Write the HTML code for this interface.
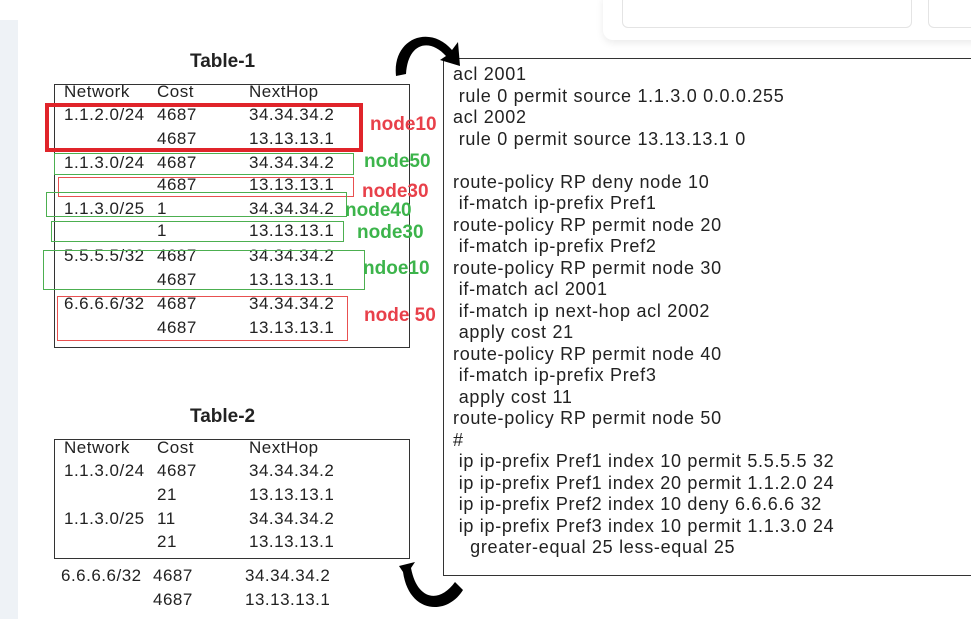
<!DOCTYPE html>
<html><head><meta charset="utf-8">
<style>
body{margin:0;width:971px;height:619px;background:#fff;position:relative;overflow:hidden;font-family:"Liberation Sans","DejaVu Sans",sans-serif;color:#222}
.a{position:absolute;white-space:pre;font-size:17px;letter-spacing:0.5px;line-height:20px}
.box{position:absolute;box-sizing:border-box}
.code{position:absolute;left:453px;font-size:18px;letter-spacing:0.7px;white-space:pre;line-height:20px}
.t{position:absolute;font-weight:bold;font-size:19px}
.lab{position:absolute;font-weight:bold;font-size:19px;white-space:pre}
</style></head><body>
<div class="box" style="left:0;top:20px;width:18px;height:599px;background:#eef2f6"></div>
<div class="box" style="left:603px;top:-10px;width:380px;height:50px;border-radius:10px;box-shadow:0 3px 8px rgba(0,0,0,0.08);background:#fff"></div>
<div class="box" style="left:622px;top:-5px;width:290px;height:33px;border:1px solid #e4e4e4;border-radius:6px"></div>
<div class="box" style="left:928px;top:-5px;width:60px;height:33px;border:1px solid #e4e4e4;border-radius:6px"></div>

<div class="t" style="left:190px;top:51px">Table-1</div>
<div class="box" style="left:54px;top:84px;width:356px;height:264px;border:1.5px solid #333"></div>
<div class="a" style="left:64px;top:82px">Network</div>
<div class="a" style="left:157px;top:82px">Cost</div>
<div class="a" style="left:249px;top:82px">NextHop</div>

<div id="t1"></div>

<div class="box" style="left:45px;top:103px;width:318px;height:49px;border:4px solid #e0242a"></div>
<div class="box" style="left:54px;top:153px;width:300px;height:22px;border:1px solid #4caf50"></div>
<div class="box" style="left:58px;top:177px;width:296px;height:20px;border:1px solid #e85050"></div>
<div class="box" style="left:46px;top:192px;width:301px;height:25px;border:1px solid #4caf50"></div>
<div class="box" style="left:51px;top:221px;width:293px;height:21px;border:1px solid #4caf50"></div>
<div class="box" style="left:43px;top:250px;width:322px;height:40px;border:1px solid #4caf50"></div>
<div class="box" style="left:57px;top:296px;width:291px;height:45px;border:1px solid #e85050"></div>

<div class="lab" style="left:370px;top:114px;color:#e8404a">node10</div>
<div class="lab" style="left:364px;top:151px;color:#3cb44b">node50</div>
<div class="lab" style="left:362px;top:181px;color:#e8404a">node30</div>
<div class="lab" style="left:345px;top:200px;color:#3cb44b">node40</div>
<div class="lab" style="left:357px;top:222px;color:#3cb44b">node30</div>
<div class="lab" style="left:363px;top:258px;color:#3cb44b">ndoe10</div>
<div class="lab" style="left:364px;top:305px;color:#e8404a">node 50</div>

<div class="t" style="left:190px;top:406px">Table-2</div>
<div class="box" style="left:54px;top:439px;width:356px;height:120px;border:1.5px solid #333"></div>
<div id="t2"></div>

<div class="box" style="left:443px;top:58px;width:540px;height:518px;border:1.5px solid #333"></div>
<div id="code"></div>

<svg style="position:absolute;left:390px;top:28px" width="80" height="50">
<path d="M6 48 C2 10,40 -4,62 22 L68 14 L70 38 L50 32 L56 28 C40 10,18 14,16 46 Z" fill="#000"/></svg>
<svg style="position:absolute;left:395px;top:560px" width="70" height="55">
<path d="M4 6 L20 2 L16 8 C22 40,44 44,60 22 L68 30 C52 56,14 54,8 12 Z" fill="#000"/></svg>

<script>
const t1=[["1.1.2.0/24","4687","34.34.34.2"],["","4687","13.13.13.1"],["1.1.3.0/24","4687","34.34.34.2"],["","4687","13.13.13.1"],["1.1.3.0/25","1","34.34.34.2"],["","1","13.13.13.1"],["5.5.5.5/32","4687","34.34.34.2"],["","4687","13.13.13.1"],["6.6.6.6/32","4687","34.34.34.2"],["","4687","13.13.13.1"]];
const t1y=[105,129,153,175,199,221,246,270,294,318];
const t2=[["Network","Cost","NextHop",438,64,157,249],["1.1.3.0/24","4687","34.34.34.2",461,64,157,249],["","21","13.13.13.1",485,64,157,249],["1.1.3.0/25","11","34.34.34.2",509,64,157,249],["","21","13.13.13.1",532,64,157,249],["6.6.6.6/32","4687","34.34.34.2",566,61,153,245],["","4687","13.13.13.1",590,61,153,245]];
function cell(parent,txt,x,y,name){const d=document.createElement('div');d.className='a';d.textContent=txt;d.style.left=x+'px';d.style.top=y+'px';


parent.appendChild(d);}
const p1=document.getElementById('t1');
t1.forEach((r,i)=>{cell(p1,r[0],64,t1y[i],'t1-network');cell(p1,r[1],157,t1y[i],'t1-cost');cell(p1,r[2],249,t1y[i],'t1-nexthop');});
const p2=document.getElementById('t2');
t2.forEach(r=>{cell(p2,r[0],r[4],r[3],'t2-network');cell(p2,r[1],r[5],r[3],'t2-cost');cell(p2,r[2],r[6],r[3],'t2-nexthop');});
const lines=["acl 2001"," rule 0 permit source 1.1.3.0 0.0.0.255","acl 2002"," rule 0 permit source 13.13.13.1 0","","route-policy RP deny node 10"," if-match ip-prefix Pref1","route-policy RP permit node 20"," if-match ip-prefix Pref2","route-policy RP permit node 30"," if-match acl 2001"," if-match ip next-hop acl 2002"," apply cost 21","route-policy RP permit node 40"," if-match ip-prefix Pref3"," apply cost 11","route-policy RP permit node 50","#"," ip ip-prefix Pref1 index 10 permit 5.5.5.5 32"," ip ip-prefix Pref1 index 20 permit 1.1.2.0 24"," ip ip-prefix Pref2 index 10 deny 6.6.6.6 32"," ip ip-prefix Pref3 index 10 permit 1.1.3.0 24","   greater-equal 25 less-equal 25"];
const pc=document.getElementById('code');
lines.forEach((l,i)=>{const d=document.createElement('div');d.className='code';d.textContent=l;d.style.top=(64+i*21.5)+'px';


pc.appendChild(d);});
</script>
</body></html>
